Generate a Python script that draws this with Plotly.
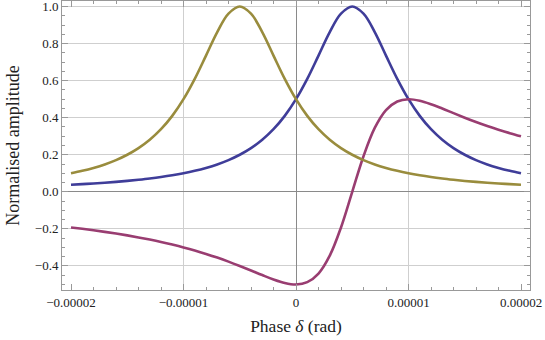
import plotly.graph_objects as go

# Phase in micro-radians (converted to rad below)
phase_urad = list(range(-20, 21))

blue_vals = [0.038, 0.0416, 0.0451, 0.0491, 0.0536, 0.0588, 0.0648, 0.0716, 0.0796, 0.0890,
             0.100, 0.1131, 0.1289, 0.1479, 0.1712, 0.200, 0.2358, 0.2809, 0.3378, 0.4098,
             0.500, 0.6098, 0.7353, 0.8621, 0.9615, 1.000, 0.9615, 0.8621, 0.7353, 0.6098,
             0.500, 0.4098, 0.3378, 0.2809, 0.2358, 0.200, 0.1712, 0.1479, 0.1289, 0.1131, 0.100]

gold_vals = [0.100, 0.1131, 0.1289, 0.1479, 0.1712, 0.200, 0.2358, 0.2809, 0.3378, 0.4098,
             0.500, 0.6098, 0.7353, 0.8621, 0.9615, 1.000, 0.9615, 0.8621, 0.7353, 0.6098,
             0.500, 0.4098, 0.3378, 0.2809, 0.2358, 0.200, 0.1712, 0.1479, 0.1289, 0.1131,
             0.100, 0.0890, 0.0796, 0.0716, 0.0648, 0.0588, 0.0536, 0.0491, 0.0451, 0.0416, 0.038]

purple_vals = [-0.1923, -0.1997, -0.2076, -0.2161, -0.2253, -0.2353, -0.2461, -0.2579, -0.2707, -0.2847,
               -0.300, -0.3167, -0.3351, -0.3550, -0.3767, -0.400, -0.4245, -0.4494, -0.4730, -0.4918,
               -0.500, -0.4878, -0.4412, -0.3448, -0.1923, 0.000, 0.1923, 0.3448, 0.4412, 0.4878,
               0.500, 0.4918, 0.4730, 0.4494, 0.4245, 0.400, 0.3767, 0.3550, 0.3351, 0.3167, 0.300]

x_tick_vals = [-2e-5, -1e-5, 0, 1e-5, 2e-5]
x_tick_text = ["\u22120.00002", "\u22120.00001", "0", "0.00001", "0.00002"]
x_grid_vals = [-1e-5, 1e-5]
y_tick_vals = [-0.4, -0.2, 0.0, 0.2, 0.4, 0.6, 0.8, 1.0]
y_tick_text = ["\u22120.4", "\u22120.2", "0.0", "0.2", "0.4", "0.6", "0.8", "1.0"]

x = [p * 1e-6 for p in phase_urad]

BLUE = "#3f3d99"
PURPLE = "#993d71"
GOLD = "#998c3d"

fig = go.Figure()
for vals, col in [(blue_vals, BLUE), (purple_vals, PURPLE), (gold_vals, GOLD)]:
    fig.add_trace(go.Scatter(x=x, y=vals, mode="lines",
                             line=dict(color=col, width=2.6, shape="spline", smoothing=1.0),
                             showlegend=False, hoverinfo="skip"))

for gx in x_grid_vals:
    fig.add_shape(type="line", xref="x", yref="paper", x0=gx, x1=gx, y0=0, y1=1,
                  line=dict(color="#cfcfcf", width=1), layer="below")

font_family = "Liberation Serif, Times New Roman, Times, serif"

fig.update_layout(
    width=545, height=340,
    margin=dict(l=62, r=15, t=1, b=50, autoexpand=False),
    paper_bgcolor="white", plot_bgcolor="white",
    font=dict(family=font_family, color="#222222", size=13),
    xaxis=dict(
        range=[-2.08e-5, 2.08e-5],
        tickvals=x_tick_vals, ticktext=x_tick_text,
        showgrid=False, automargin=False, ticklabeloverflow="allow",
        zeroline=True, zerolinecolor="#8a8a8a", zerolinewidth=1,
        showline=True, linecolor="#999999", linewidth=1, mirror="allticks",
        ticks="inside", ticklen=6, tickcolor="#999999", tickwidth=1,
        minor=dict(dtick=2e-6, tick0=0, ticks="inside", ticklen=3, tickcolor="#999999", showgrid=False),
        tickfont=dict(family=font_family, size=13),
        title=dict(text="Phase <i>δ</i> (rad)", font=dict(family=font_family, size=17.5), standoff=11),
    ),
    yaxis=dict(
        range=[-0.53, 1.03],
        tickvals=y_tick_vals, ticktext=y_tick_text,
        showgrid=True, gridcolor="#cfcfcf", gridwidth=1, automargin=False, ticklabeloverflow="allow",
        zeroline=True, zerolinecolor="#8a8a8a", zerolinewidth=1,
        showline=True, linecolor="#999999", linewidth=1, mirror="allticks",
        ticks="inside", ticklen=6, tickcolor="#999999", tickwidth=1,
        minor=dict(dtick=0.05, tick0=0, ticks="inside", ticklen=3, tickcolor="#999999", showgrid=False),
        tickfont=dict(family=font_family, size=13),
        title=dict(text="Normalised amplitude", font=dict(family=font_family, size=18), standoff=10),
    ),
)

fig.write_html("out.html", config={"displayModeBar": False},
               post_script="document.body.style.margin='0';document.body.style.padding='0';")
